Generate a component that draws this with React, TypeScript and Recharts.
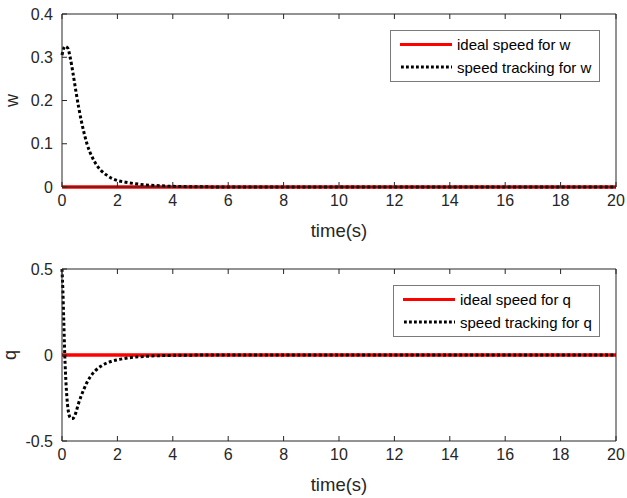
import { LineChart, Line, XAxis, YAxis, Legend } from "recharts";

// time samples (s) and tracked speed
const timeW = [0, 0.1, 0.2, 0.3, 0.4, 0.5, 0.6, 0.7, 0.8, 0.9, 1.0, 1.2, 1.4, 1.6, 1.8, 2.0, 2.3, 2.6, 3.0, 3.5, 4, 5, 6, 8, 10, 12, 14, 16, 18, 20];
const speedW = [0.305, 0.325, 0.322, 0.298, 0.262, 0.222, 0.185, 0.152, 0.124, 0.1, 0.082, 0.056, 0.039, 0.028, 0.02, 0.015, 0.011, 0.008, 0.005, 0.003, 0.0015, 0.0005, 0, 0, 0, 0, 0, 0, 0, 0];

const timeQ = [0, 0.03, 0.06, 0.1, 0.15, 0.2, 0.25, 0.3, 0.35, 0.4, 0.5, 0.6, 0.7, 0.8, 0.9, 1.0, 1.2, 1.4, 1.6, 1.8, 2.0, 2.3, 2.6, 3.0, 3.5, 4, 5, 6, 8, 10, 12, 14, 16, 18, 20];
const speedQ = [0.5, 0.38, 0.22, 0.0, -0.18, -0.29, -0.345, -0.365, -0.37, -0.368, -0.335, -0.28, -0.235, -0.195, -0.16, -0.132, -0.092, -0.066, -0.048, -0.036, -0.028, -0.019, -0.013, -0.008, -0.004, -0.002, -0.0005, 0, 0, 0, 0, 0, 0, 0, 0];

// ideal speed is zero everywhere
const idealSpeed = 0;

const xTicks = [0, 2, 4, 6, 8, 10, 12, 14, 16, 18, 20];
const wTicks = [0, 0.1, 0.2, 0.3, 0.4];
const qTicks = [-0.5, 0, 0.5];

const wData = timeW.map((t, i) => ({ t, ideal: idealSpeed, track: speedW[i] }));
const qData = timeQ.map((t, i) => ({ t, ideal: idealSpeed, track: speedQ[i] }));

const FONT = "'Liberation Sans', Arial, Helvetica, sans-serif";
const AXIS = "#262626";
const TICK = { fontSize: 16, fill: AXIS, fontFamily: FONT };

const BoxLegend = ({ name }: { name: string }) => (
  <div
    style={{
      border: "1px solid #7a7a7a",
      background: "#fff",
      boxSizing: "border-box",
      width: "100%",
      padding: "2px 0 3px 9px",
      fontFamily: FONT,
      fontSize: 15,
      color: "#000",
    }}
  >
    <div style={{ display: "flex", alignItems: "center", height: 23 }}>
      <div style={{ width: 52, height: 3, background: "#ff0000", marginRight: 5 }} />
      <span>ideal speed for {name}</span>
    </div>
    <div style={{ display: "flex", alignItems: "center", height: 22 }}>
      <svg width={52} height={4} style={{ marginRight: 5 }}>
        <line x1={1} y1={2} x2={52} y2={2} stroke="#000" strokeWidth={2.8} strokeDasharray="2.8 2.2" />
      </svg>
      <span>speed tracking for {name}</span>
    </div>
  </div>
);

const yLabel = (text: string, shift: number) => (props: any) => {
  const { viewBox } = props;
  const x = viewBox.x + viewBox.width - shift;
  const y = viewBox.y + viewBox.height / 2;
  return (
    <text
      x={x}
      y={y}
      transform={`rotate(-90, ${x}, ${y})`}
      textAnchor="middle"
      fontSize={18}
      fontFamily={FONT}
      fill={AXIS}
    >
      {text}
    </text>
  );
};

const noTick = () => <g />;

function Panel({
  data,
  name,
  yTicks,
  domain,
  margin,
  legendPos,
  labelShift,
  labelOffset,
}: {
  data: any[];
  name: string;
  yTicks: number[];
  domain: [number, number];
  margin: { top: number; right: number; bottom: number; left: number };
  legendPos: { top: number; left: number; width: number };
  labelShift: number;
  labelOffset: number;
}) {
  return (
    <LineChart width={627} height={249} data={data} margin={margin}>
      <XAxis
        dataKey="t"
        type="number"
        domain={[0, 20]}
        ticks={xTicks}
        height={40}
        stroke={AXIS}
        tickSize={-5}
        tickMargin={13}
        tick={TICK}
        label={{ value: "time(s)", position: "insideTop", offset: labelOffset, fontSize: 18.5, fill: AXIS, fontFamily: FONT }}
      />
      <XAxis
        xAxisId="top"
        dataKey="t"
        type="number"
        orientation="top"
        domain={[0, 20]}
        ticks={xTicks}
        height={1}
        stroke={AXIS}
        tickSize={-5}
        tick={noTick}
      />
      <YAxis
        type="number"
        domain={domain}
        ticks={yTicks}
        width={50}
        stroke={AXIS}
        tickSize={-5}
        tickMargin={14}
        tick={TICK}
        label={{ value: name, content: yLabel(name, labelShift) }}
      />
      <YAxis
        yAxisId="right"
        orientation="right"
        type="number"
        domain={domain}
        ticks={yTicks}
        width={1}
        stroke={AXIS}
        tickSize={-5}
        tick={noTick}
      />
      <Legend
        layout="horizontal"
        verticalAlign="middle"
        wrapperStyle={{ top: legendPos.top, left: legendPos.left, width: legendPos.width }}
        content={() => <BoxLegend name={name} />}
      />
      <Line
        dataKey="ideal"
        stroke="#ff0000"
        strokeWidth={3.5}
        dot={false}
        activeDot={false}
        isAnimationActive={false}
        legendType="none"
      />
      <Line
        dataKey="track"
        type="monotone"
        stroke="#000"
        strokeWidth={3}
        strokeDasharray="3 2.4"
        dot={false}
        activeDot={false}
        isAnimationActive={false}
        legendType="none"
      />
    </LineChart>
  );
}

export default function App() {
  return (
    <div style={{ position: "absolute", left: 0, top: 0, width: 627, height: 498, background: "#fff" }}>
      <Panel
        data={wData}
        name="w"
        yTicks={wTicks}
        domain={[0, 0.4]}
        margin={{ top: 13, right: 10, bottom: 22, left: 12 }}
        legendPos={{ top: 30, left: 390, width: 210 }}
        labelShift={44}
        labelOffset={37}
      />
      <Panel
        data={qData}
        name="q"
        yTicks={qTicks}
        domain={[-0.5, 0.5]}
        margin={{ top: 19, right: 10, bottom: 17, left: 12 }}
        legendPos={{ top: 36, left: 393, width: 207 }}
        labelShift={46}
        labelOffset={37}
      />
    </div>
  );
}
